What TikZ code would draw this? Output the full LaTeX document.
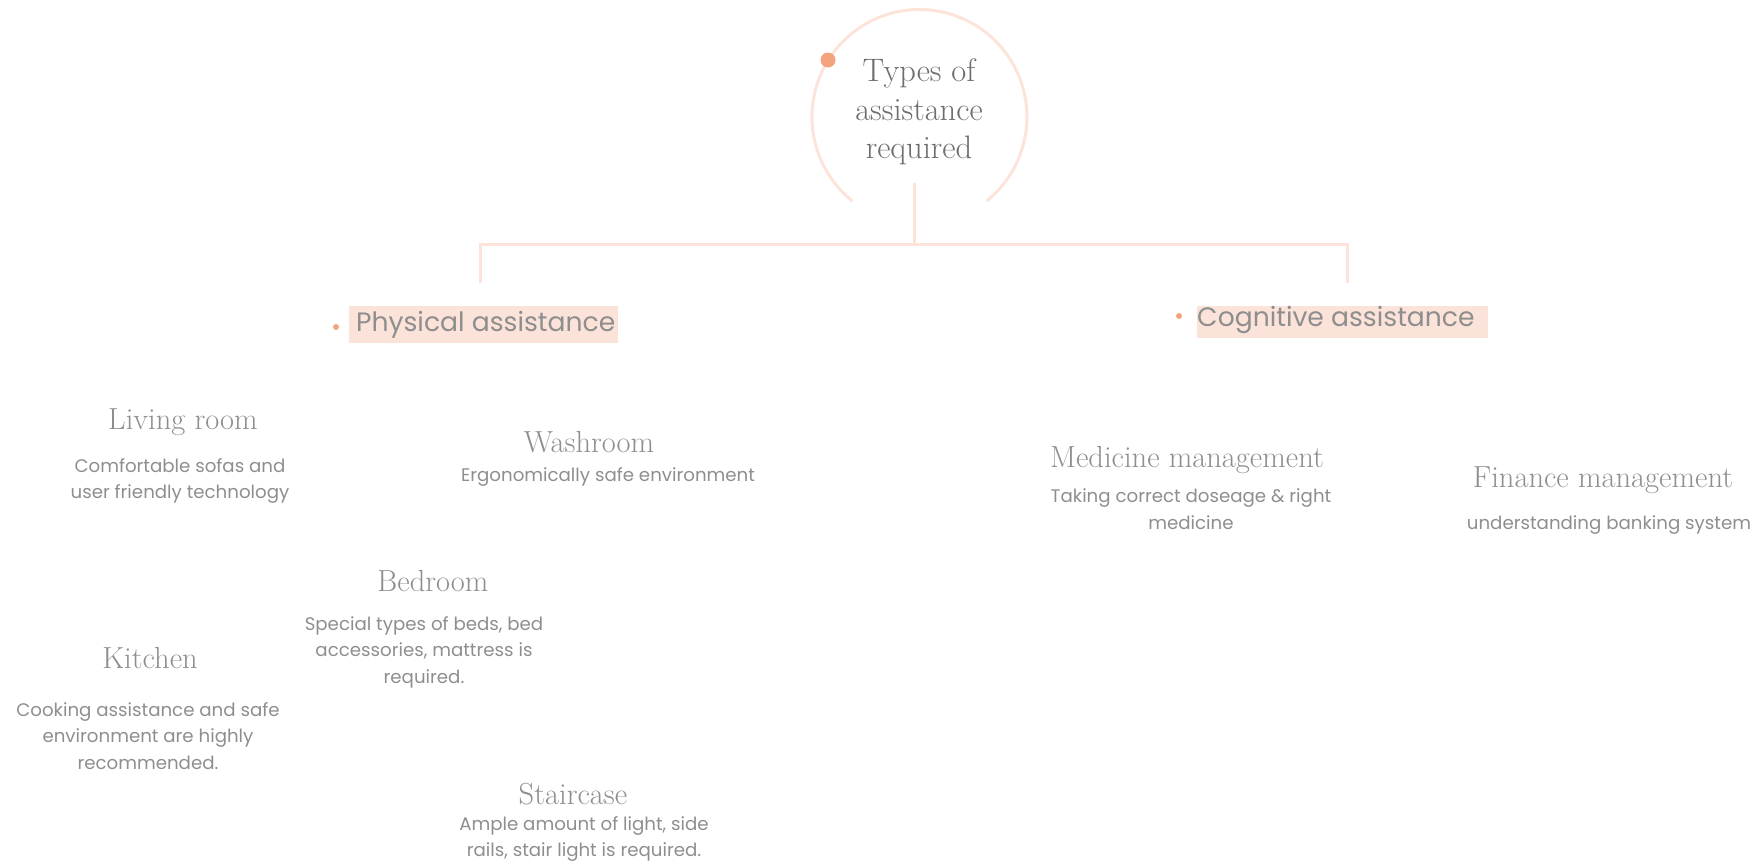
\documentclass[tikz,border=0pt]{standalone}
\usepackage{fontspec}
\newfontfamily\bodyfont{Poppins}
\definecolor{peach}{HTML}{FCE4DA}
\definecolor{dotc}{HTML}{F4A37F}
\definecolor{boxc}{HTML}{FCE3D9}
\definecolor{txt}{HTML}{8E8E8E}
\definecolor{ctxt}{HTML}{6E6E6E}
\tikzset{
  link/.style={draw=peach, line width=3pt},
  head/.style={inner sep=0pt, text=txt, font=\fontsize{30.5}{34}\selectfont},
  desc/.style={inner sep=0pt, text=txt, align=center, font=\bodyfont\fontsize{18.2}{26.5}\selectfont},
  cat/.style={inner sep=0pt, text=txt, anchor=west, font=\bodyfont\fontsize{26.6}{30}\selectfont},
  catbox/.style={fill=boxc, draw=none},
  bullet/.style={circle, fill=dotc, inner sep=0pt, minimum size=#1}
}
\begin{document}
\begin{tikzpicture}[x=1pt,y=-1pt]
\useasboundingbox (0,0) rectangle (1763,865);
% central circle
\draw[draw=peach, line width=3pt] (986.5,201) arc[start angle=-51.4, end angle=231.4, radius=107.5pt];
\node[bullet=15pt] (cdot) at (828,60) {};
\node[inner sep=0pt, text=ctxt, align=center, font=\fontsize{32.5}{38.5}\selectfont] (root) at (919,112) {Types of\\assistance\\required};
% categories
\fill[boxc] (349,306) rectangle (618,343);
\node[bullet=6pt] (pdot) at (336,327) {};
\node[cat] (phys) at (356,325) {Physical assistance};
\fill[boxc] (1197,306) rectangle (1488,338);
\node[bullet=6pt] (cdot2) at (1179,316) {};
\node[cat] (cogn) at (1197,320) {Cognitive assistance};
% connectors
\coordinate (stem) at (914,183);
\coordinate (bar) at (914,244);
\coordinate (pend) at (480,283);
\coordinate (cend) at (1347,283);
\draw[link] (stem) -- (bar);
\draw[link] (pend) |- (bar) -| (cend);
% physical items
\node[head] (living) at (183,422) {Living room};
\node[desc] (livingd) at (180,481) {Comfortable sofas and\\user friendly technology};
\node[head] (wash) at (589,442) {Washroom};
\node[desc] (washd) at (608,477) {Ergonomically safe environment};
\node[head] (bed) at (433,581) {Bedroom};
\node[desc] (bedd) at (424,652) {Special types of beds, bed\\accessories, mattress is\\required.};
\node[head] (kitchen) at (150,658) {Kitchen};
\node[desc] (kitchend) at (148,736) {Cooking assistance and safe\\environment are highly\\recommended.};
\node[head] (stair) at (573,794) {Staircase};
\node[desc] (staird) at (584,839) {Ample amount of light, side\\rails, stair light is required.};
% cognitive items
\node[head] (med) at (1187,460) {Medicine management};
\node[desc] (medd) at (1191,509) {Taking correct doseage \& right\\medicine};
\node[head] (fin) at (1603,480) {Finance management};
\node[desc] (find) at (1609,525) {understanding banking system};
\end{tikzpicture}
\end{document}
